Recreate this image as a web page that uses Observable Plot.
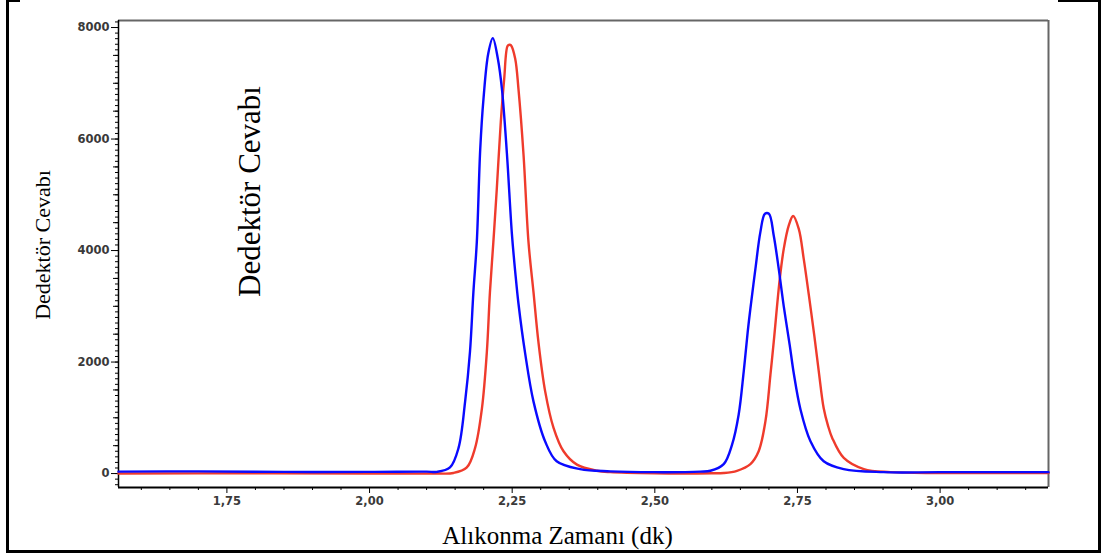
<!DOCTYPE html>
<html>
<head>
<meta charset="utf-8">
<script src="https://cdn.jsdelivr.net/npm/d3@7"></script>
<script src="https://cdn.jsdelivr.net/npm/@observablehq/plot@0.6"></script>
<style>
  html, body { margin: 0; padding: 0; background: #fff; }
  #wrap { position: relative; width: 1104px; height: 559px; overflow: hidden; }
  #wrap svg { position: absolute; left: 0; top: 0; }
  .bd { position: absolute; background: #000; }
</style>
</head>
<body>
<div id="wrap">
  <div class="bd" style="left:6px;top:0;width:3px;height:553px"></div>
  <div class="bd" style="left:6px;top:0;width:14px;height:2px"></div>
  <div class="bd" style="left:1058px;top:0;width:43px;height:2px"></div>
  <div class="bd" style="left:1098px;top:0;width:3px;height:553px"></div>
  <div class="bd" style="left:6px;top:550px;width:1095px;height:3px"></div>
</div>
<script>
// Blue chromatogram (retention time in min, detector response)
const blueTime = [1.56, 1.70, 1.85, 2.00, 2.10, 2.118, 2.141, 2.156, 2.1675, 2.176, 2.182, 2.188, 2.194, 2.1997, 2.208, 2.216, 2.2249, 2.232, 2.2407, 2.2495, 2.2555, 2.261, 2.2728, 2.2874, 2.308, 2.328, 2.369, 2.422, 2.50, 2.58, 2.5974, 2.6207, 2.6354, 2.647, 2.6558, 2.6628, 2.6675, 2.6763, 2.685, 2.693, 2.700, 2.7084, 2.7172, 2.726, 2.7365, 2.7435, 2.7553, 2.7728, 2.796, 2.831, 2.901, 3.00, 3.19];
const blueSignal = [35, 40, 30, 30, 35, 30, 110, 460, 1290, 2180, 3250, 4150, 5820, 6720, 7530, 7810, 7440, 6900, 5750, 4300, 3600, 3050, 2150, 1290, 570, 220, 80, 40, 25, 35, 50, 170, 520, 1060, 1830, 2540, 2960, 3670, 4330, 4660, 4660, 4270, 3670, 3000, 2300, 1800, 1150, 580, 220, 80, 25, 25, 25];

// Red chromatogram
const redTime = [1.56, 1.80, 2.00, 2.12, 2.147, 2.1705, 2.185, 2.197, 2.2056, 2.211, 2.217, 2.223, 2.230, 2.236, 2.242, 2.2453, 2.248, 2.2553, 2.261, 2.270, 2.2786, 2.2874, 2.296, 2.3079, 2.3225, 2.340, 2.3635, 2.3986, 2.422, 2.50, 2.60, 2.6207, 2.644, 2.6675, 2.682, 2.6939, 2.7026, 2.7084, 2.719, 2.726, 2.7348, 2.7424, 2.7523, 2.761, 2.770, 2.7798, 2.7874, 2.796, 2.8035, 2.8109, 2.8312, 2.8663, 2.913, 3.00, 3.19];
const redSignal = [0, 5, 0, 0, 10, 110, 460, 1170, 2180, 3250, 4150, 5100, 6300, 7080, 7670, 7690, 7680, 7440, 6900, 5700, 4150, 3250, 2360, 1470, 820, 400, 160, 50, 25, 5, 5, 10, 50, 170, 400, 940, 1770, 2360, 3490, 4030, 4450, 4620, 4390, 3850, 3200, 2450, 1830, 1170, 860, 640, 280, 80, 25, 10, 10];

// Axis ticks
const xMajorTicks = [1.75, 2.00, 2.25, 2.50, 2.75, 3.00];
const xMinorTicks = [1.60, 1.65, 1.70, 1.80, 1.85, 1.90, 1.95, 2.05, 2.10, 2.15, 2.20, 2.30, 2.35, 2.40, 2.45, 2.55, 2.60, 2.65, 2.70, 2.80, 2.85, 2.90, 2.95, 3.05, 3.10, 3.15];
const yMajorTicks = [0, 2000, 4000, 6000, 8000];
const yMidTicks = [500, 1000, 1500, 2500, 3000, 3500, 4500, 5000, 5500, 6500, 7000, 7500];
const ySmallTicks = d3.range(-200, 8101, 100);

// Labels
const yLabel = "Dedektör Cevabı";
const innerLabel = "Dedektör Cevabı";
const xLabel = "Alıkonma Zamanı (dk)";

const xDomain = [1.56, 3.19];
const yDomain = [-250, 8126];

const blue = blueTime.map((t, i) => ({t, v: blueSignal[i]}));
const red = redTime.map((t, i) => ({t, v: redSignal[i]}));

const tickFont = {fontSize: 11.5, fontWeight: "bold", fill: "#3a3a3a", fontFamily: "DejaVu Sans"};
const serif = "Liberation Serif, Times New Roman, serif";

const chart = Plot.plot({
  width: 1104,
  height: 559,
  marginLeft: 118,
  marginRight: 56,
  marginTop: 20,
  marginBottom: 72,
  style: {background: "transparent", overflow: "visible"},
  x: {domain: xDomain},
  y: {domain: yDomain},
  marks: [
    Plot.axisY({ticks: ySmallTicks, tickSize: 3, tickFormat: () => "", label: null, stroke: "#000"}),
    Plot.axisY({ticks: yMidTicks, tickSize: 5, tickFormat: () => "", label: null, stroke: "#000"}),
    Plot.axisY({ticks: yMajorTicks, tickSize: 7, tickPadding: 2, tickFormat: d => String(d), label: null, stroke: "#000", ...tickFont}),
    Plot.axisX({ticks: xMinorTicks, tickSize: 3, tickFormat: () => "", label: null, stroke: "#000"}),
    Plot.axisX({ticks: xMajorTicks, tickSize: 6, tickPadding: 3, tickFormat: d => d.toFixed(2).replace(".", ","), label: null, stroke: "#000", ...tickFont}),
    Plot.ruleY([yDomain[1]], {stroke: "#666", strokeWidth: 2}),
    Plot.ruleX([xDomain[1]], {stroke: "#666", strokeWidth: 2}),
    Plot.ruleX([xDomain[0]], {stroke: "#000", strokeWidth: 1.5}),
    Plot.ruleY([yDomain[0]], {stroke: "#000", strokeWidth: 2}),
    Plot.line(red, {x: "t", y: "v", stroke: "#ef3b2c", strokeWidth: 2.4, curve: "catmull-rom"}),
    Plot.line(blue, {x: "t", y: "v", stroke: "#0a0aff", strokeWidth: 2.4, curve: "catmull-rom"}),
    Plot.text([yLabel], {text: d => d, frameAnchor: "left", textAnchor: "middle", lineAnchor: "middle", dx: -76, dy: -9, rotate: -90, fontSize: 22, fontFamily: serif, fill: "#000"}),
    Plot.text([innerLabel], {text: d => d, frameAnchor: "top-left", textAnchor: "middle", lineAnchor: "middle", dx: 132, dy: 171, rotate: -90, fontSize: 31, fontFamily: serif, fill: "#000"}),
    Plot.text([xLabel], {text: d => d, frameAnchor: "bottom", textAnchor: "middle", lineAnchor: "middle", dx: -26, dy: 48, fontSize: 25, fontFamily: serif, fill: "#000"})
  ]
});
document.getElementById("wrap").appendChild(chart);
</script>
</body>
</html>
